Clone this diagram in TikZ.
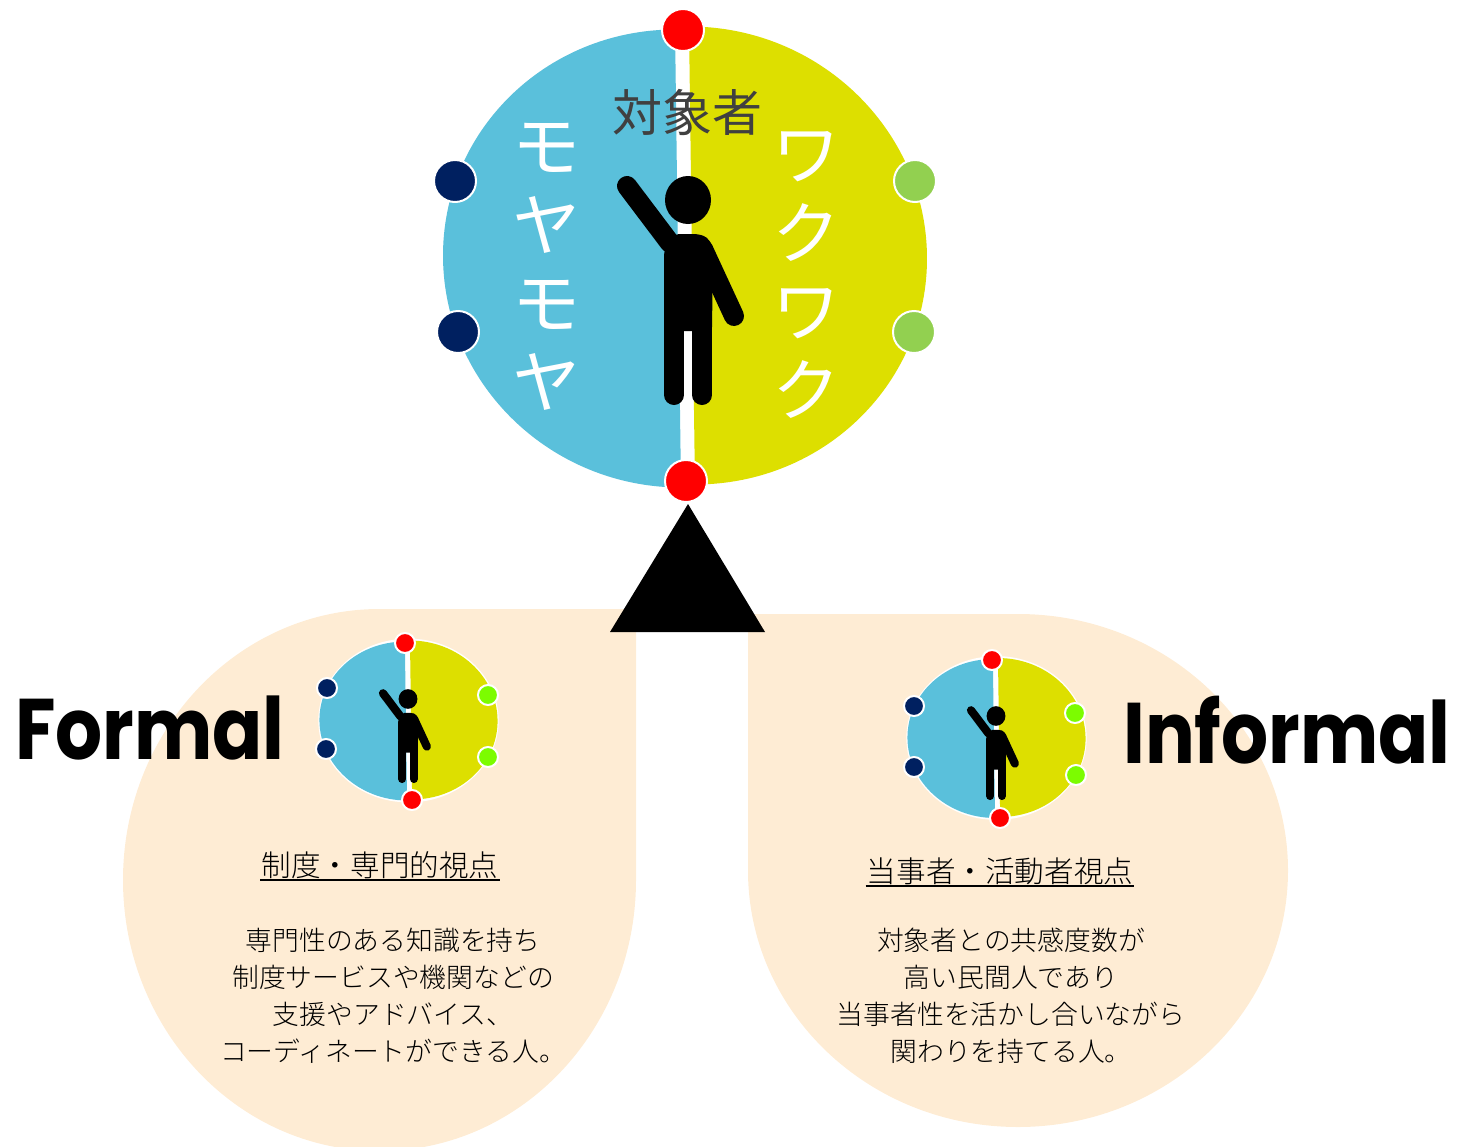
\documentclass[tikz,border=0pt]{standalone}
\usepackage{fontspec}
\newfontfamily\jpfont{Noto Sans CJK JP Light}
\newfontfamily\jpregular{Noto Sans CJK JP}
\newfontfamily\latinfont{Poppins}[BoldFont={Poppins Bold}]
\usetikzlibrary{positioning}

\definecolor{moyablue}{HTML}{5AC0DB}
\definecolor{wakuyellow}{HTML}{DDDF00}
\definecolor{leafcream}{HTML}{FEECD4}
\definecolor{navydot}{HTML}{002060}
\definecolor{softgreen}{HTML}{92D050}
\definecolor{limegreen}{HTML}{7CFC00}

\tikzset{
    dialdot/.style={circle,draw=white,line width=2pt,inner sep=0pt,minimum size=#1},
    limb/.style={black,line width=#1,line cap=round},
    bodytext/.style={font=\jpfont\fontsize{26.8}{37}\selectfont,align=center,text=black,inner sep=0pt},
    headtext/.style={font=\jpfont\fontsize{29.6}{34}\selectfont,text=black,inner sep=1pt},
    kanatext/.style={font=\jpregular\fontsize{68}{78.5}\selectfont,align=center,text=white,inner sep=0pt},
    bigword/.style={font=\latinfont\bfseries\fontsize{86}{90}\selectfont,text=black,inner sep=0pt,xscale=0.86},
}

% the two halves, local coordinates around the centre
\newcommand{\drawdial}[4]{
    \begin{scope}[shift={(#1,#2)},xscale=#3,yscale=#4]
        \fill[white] (0,0) ellipse [x radius=245,y radius=236];
        \begin{scope}[xslant=-0.013]
            \fill[moyablue] (-7,230.5) arc [start angle=90,delta angle=180,x radius=235,y radius=229];
            \fill[wakuyellow] (7,-230.5) arc [start angle=270,delta angle=180,x radius=235,y radius=229];
        \end{scope}
    \end{scope}
}
% the figure, origin at the middle of the head
\newcommand{\drawperson}[3]{
    \begin{scope}[shift={(#1,#2)},scale=#3]
        \fill[black] (0,0) ellipse [x radius=23,y radius=24];
        \draw[limb=#3*20pt] (-61,-14) -- (-18,43);
        \draw[limb=#3*20pt] (46,116) -- (15,49);
        \fill[black,rounded corners=#3*4pt] (-24,51) -- (-13,34) -- (10,34) -- (19,37) -- (25,47) -- (24,131) -- (-24,131) -- cycle;
        \draw[limb=#3*20pt] (-14,125) -- (-14,195);
        \draw[limb=#3*20pt] (14,125) -- (14,195);
    \end{scope}
}

\begin{document}
\begin{tikzpicture}[x=1pt,y=-1pt]
    \useasboundingbox (0,0) rectangle (1459,1146);

    % Leaves
    \begin{scope}
        \clip (0,0) rectangle (1459,1146);
        \fill[leafcream] (636,609) -- (636,880) arc [start angle=0,delta angle=270,x radius=256.5,y radius=271] -- cycle;
        \fill[leafcream] (748,614) -- (748,870.5) arc [start angle=180,delta angle=-270,x radius=270,y radius=256.5] -- cycle;
    \end{scope}

    % Large dial
    \drawdial{685}{257}{1}{1}
    \drawperson{688}{200}{1}
    \node[dialdot=42pt,fill=red] (topred) at (683,30) {};
    \node[dialdot=42pt,fill=red] (bottomred) at (686,481) {};
    \node[dialdot=42pt,fill=navydot] (upnavy) at (455,181) {};
    \node[dialdot=42pt,fill=navydot] (lownavy) at (458,332) {};
    \node[dialdot=42pt,fill=softgreen] (upgreen) at (915,181) {};
    \node[dialdot=42pt,fill=softgreen] (lowgreen) at (914,332) {};
    \node[font=\jpregular\fontsize{50}{50}\selectfont,text=black!75,inner sep=0pt] (target) at (687,112) {対象者};
    \node[kanatext] (moya) at (546,267) {モ\\ヤ\\モ\\ヤ};
    \node[kanatext] (waku) at (806,275) {ワ\\ク\\ワ\\ク};

    % Pivot
    \fill[black] (688,504) -- (765,632) -- (610,632) -- cycle;

    % Formal side
    \drawdial{408.5}{720.5}{0.368}{0.347}
    \drawperson{408}{699}{0.41}
    \node[dialdot=20pt,fill=red] (formaltop) at (405,643) {};
    \node[dialdot=20pt,fill=red] (formalbottom) at (412,800) {};
    \node[dialdot=20pt,fill=navydot] (formalup) at (327,688) {};
    \node[dialdot=20pt,fill=navydot] (formallow) at (326,749) {};
    \node[dialdot=20pt,fill=limegreen] (formalgreenup) at (488,695) {};
    \node[dialdot=20pt,fill=limegreen] (formalgreenlow) at (488,757) {};
    \node[bigword] (formalword) at (150,728) {Formal};
    \node[headtext] (formalhead) at (380,865) {制度・専門的視点};
    \draw[black,line width=2pt] (formalhead.south west) -- (formalhead.south east);
    \node[bodytext] (formalbody) at (393,996) {専門性のある知識を持ち\\制度サービスや機関などの\\支援やアドバイス、\\コーディネートができる人。};

    % Informal side
    \drawdial{996.5}{738}{0.368}{0.347}
    \drawperson{996}{716}{0.41}
    \node[dialdot=20pt,fill=red] (informaltop) at (992,660) {};
    \node[dialdot=20pt,fill=red] (informalbottom) at (1000,818) {};
    \node[dialdot=20pt,fill=navydot] (informalup) at (914,706) {};
    \node[dialdot=20pt,fill=navydot] (informallow) at (914,767) {};
    \node[dialdot=20pt,fill=limegreen] (informalgreenup) at (1075,713) {};
    \node[dialdot=20pt,fill=limegreen] (informalgreenlow) at (1076,775) {};
    \node[bigword] (informalword) at (1287,730) {Informal};
    \node[headtext] (informalhead) at (1000,871) {当事者・活動者視点};
    \draw[black,line width=2pt] (informalhead.south west) -- (informalhead.south east);
    \node[bodytext] (informalbody) at (1011,996) {対象者との共感度数が\\高い民間人であり\\当事者性を活かし合いながら\\関わりを持てる人。};
\end{tikzpicture}
\end{document}
